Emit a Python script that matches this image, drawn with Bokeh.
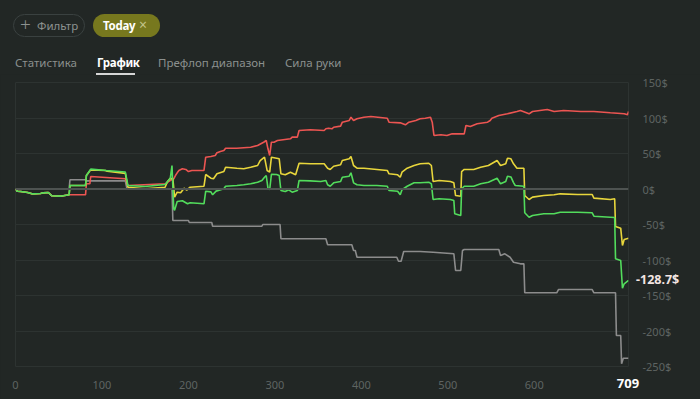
from bokeh.plotting import figure
from bokeh.layouts import column
from bokeh.models import Range1d, FixedTicker, Span, PrintfTickFormatter, Div
from bokeh.embed import file_html
from bokeh.resources import INLINE

# ---------------- data (hand number, cumulative $) ----------------
green = [(0, 0), (2, -3.1), (6, -3.5), (14, -4.9), (19, -6.8), (29, -6.3), (32, -5.4), (38, -4.9),
         (42, -9.6), (52, -10.1), (62, -8.2), (63, 4.9), (81, 4.9), (82, 19), (87, 28), (105, 26),
         (127, 24), (130, 4.9), (150, 3.5), (173, 6.3), (177, 12), (179, 15), (181, 33), (183, -28),
         (184, -30), (187, -17.6), (193, -16.6), (199, -20.8), (202, -19.4), (218, -20.8), (220, -3.1),
         (226, -4), (228, -8.2), (232, -3), (241, 0.3), (243, 3.9), (256, 4.9), (264, 5.9), (272, 7.3),
         (280, 9.6), (285, 12), (288, 16.6), (290, 19), (292, 1.1), (294, -0.7), (296, 20.8), (302, 20.4),
         (305, 19), (307, -2.1), (312, -3.5), (316, -1.1), (320, -4.5), (326, -2.1), (328, 12), (341, 11.5),
         (353, 10.6), (359, 12), (361, 5.9), (364, 3.9), (368, 8.7), (376, 10.6), (378, 16.6), (386, 18),
         (388, 22.8), (391, 8.7), (395, 5.9), (403, 4.9), (418, 4.9), (430, 3.9), (432, -2.1), (442, -3.1),
         (445, -8.2), (447, -1.1), (453, 3.9), (461, 8.7), (468, 8.7), (478, 9.6), (481, 7.3), (483, -14.8),
         (490, -13.8), (503, -14.8), (507, -16.2), (508, -34.9), (515, -37.3), (516, 0.3), (519, 3.9),
         (530, 3.9), (538, 7.3), (547, 9.6), (557, 15.2), (561, 7.3), (567, 10.6), (569, 18), (573, 17),
         (576, 9), (578, 4.9), (588, 3.9), (589, -33.5), (594, -39.7), (598, -37.3), (611, -34.9),
         (623, -34.9), (630, -32.7), (650, -32.7), (667, -33.5), (669, -38.3), (688, -39.7), (693, -40.1),
         (694, -98.3), (700, -100.7), (702, -139.7), (704, -133.5), (709, -128.7)]

yellow = [(0, 0), (2, -3.1), (6, -3.5), (14, -4.9), (19, -6.8), (29, -6.3), (32, -5.4), (38, -4.9),
          (42, -9.6), (52, -10.1), (62, -8.2), (63, 4.9), (81, 4.9), (82, 19), (87, 27), (104, 26),
          (106, 25), (127, 22), (130, 2.5), (150, 0.3), (173, 2.5), (176, 11), (179, 15), (182, 14.4),
          (184, -11.5), (187, -4.5), (191, -5.4), (195, 1.1), (198, -1.7), (202, 2.5), (218, 3.9),
          (220, 20.4), (226, 15.2), (229, 14.4), (233, 21.4), (241, 24.6), (243, 30.7), (256, 29.3),
          (264, 28.5), (272, 30.7), (280, 33.1), (283, 40.1), (288, 44.8), (291, 26.1), (294, 23.7),
          (296, 44.8), (302, 43.4), (305, 42.5), (307, 21.4), (312, 20), (318, 23.7), (324, 20), (328, 36.3),
          (341, 35.5), (357, 35.5), (361, 29.3), (364, 27.5), (368, 32.1), (376, 34.1), (378, 40.1),
          (386, 42.5), (388, 45.8), (391, 33.1), (395, 29.3), (403, 29.3), (430, 26.1), (432, 21.4),
          (442, 20), (445, 16.6), (447, 23.7), (453, 29.3), (461, 33.1), (468, 35.5), (478, 36.3),
          (481, 33.1), (483, 10.6), (490, 12), (503, 10.6), (507, 8.7), (509, -9.2), (515, -10.1),
          (516, 24.6), (519, 27.5), (530, 27.5), (538, 30.7), (547, 33.1), (557, 40.1), (561, 33.1),
          (567, 35.5), (569, 43.4), (573, 42.5), (576, 35.5), (580, 29.3), (588, 29.3), (589, -9.2),
          (594, -14.8), (598, -11.5), (611, -9.2), (623, -8.2), (630, -6.8), (650, -7.7), (667, -7.7),
          (669, -12.9), (688, -14.8), (693, -13.8), (694, -52.8), (700, -55.2), (702, -79.6), (704, -71.1),
          (709, -69.3)]

red = [(0, 0), (2, -3.1), (6, -3.5), (14, -4.9), (19, -6.8), (29, -6.3), (32, -5.4), (38, -4.9),
       (42, -9.6), (52, -10.1), (62, -8.2), (81, -8.2), (82, 7.3), (86, 7.3), (87, 17.6), (127, 14.4),
       (130, 4.9), (173, 7.3), (179, 12), (183, 14.4), (185, 19), (187, 22.8), (189, 26.1), (193, 28.5),
       (197, 27.5), (200, 24.6), (204, 26.1), (218, 26.1), (220, 44.8), (226, 45.8), (231, 47.2),
       (233, 51), (237, 52.8), (241, 54.2), (243, 57.5), (256, 57.5), (272, 58.9), (280, 61.3),
       (287, 65.9), (290, 68.3), (292, 56.6), (294, 47.2), (296, 65.9), (299, 65.9), (303, 68.3),
       (318, 70.7), (320, 73), (326, 73), (328, 82.4), (341, 83.4), (357, 82.4), (359, 84.8), (362, 85.6),
       (366, 84.8), (368, 87), (376, 88.5), (378, 94.1), (386, 96.5), (388, 101.1), (391, 96.5),
       (395, 98.9), (403, 101.1), (411, 102.1), (430, 99.7), (432, 94.1), (445, 93.2), (451, 90.4),
       (455, 94.1), (463, 96.5), (468, 98.9), (474, 99.7), (480, 101.1), (482, 94.1), (484, 75.4),
       (492, 76.3), (499, 75.4), (505, 77.7), (519, 77.7), (521, 89.4), (526, 88), (534, 91.8),
       (546, 94.1), (549, 96.5), (551, 99.7), (559, 103.5), (569, 105.9), (580, 109.2), (584, 110.6),
       (594, 105.9), (598, 109.2), (615, 112), (623, 109.2), (634, 110.6), (654, 109.2), (669, 109.2),
       (688, 107.3), (704, 105.9), (708, 104.5), (709, 109.2)]

gray = [(0, 0), (62, 0), (63, 13), (81, 13), (82, 11.5), (127, 11.5), (129, 0), (181, 0), (182, -44.4),
        (200, -44.4), (201, -47.2), (227, -47.2), (228, -52.4), (285, -52.4), (286, -50), (306, -50),
        (307, -70.1), (359, -70.1), (361, -78.6), (389, -78.6), (391, -86.6), (393, -86.6), (395, -96.1),
        (441, -96.1), (443, -101.7), (446, -101.7), (449, -88), (468, -88), (483, -89), (507, -91.3),
        (509, -114.8), (515, -114.8), (517, -86.6), (519, -85.2), (559, -85.2), (561, -93.7), (566, -91.3),
        (572, -96.1), (576, -103.1), (584, -105.4), (588, -105.4), (589, -146.2), (626, -146.2),
        (628, -141.6), (667, -141.6), (669, -146.2), (694, -146.2), (695, -206.3), (700, -206.3),
        (701, -246.2), (703, -238.3), (709, -238.3)]

x_ticks = [0, 100, 200, 300, 400, 500, 600]
y_ticks = [150, 100, 50, 0, -50, -100, -150, -200, -250]
hands_total = 709
final_value = -128.7
tabs = ["Статистика", "График", "Префлоп диапазон", "Сила руки"]
tab_left = [15, 97, 158, 285]
filter_text = "Фильтр"
chip_text = "Today"

# ---------------- styling ----------------
BG = "#222725"
GRID = "#2d3331"
TICK = "#5e6462"
FONT = "Noto Sans"

HEADER_H = 74
W, H = 700, 325
BL, BR, BT, BB = 15, 72, 8, 33
x0, x1 = 0, hands_total
y0, y1 = -250, 150

# positions of the two end-of-series value tags, from the chart's linear mapping
fw = W - BL - BR
fh = H - BT - BB
tag_x_cx = BL + (hands_total - x0) / (x1 - x0) * fw          # page x of last hand
tag_x_cy = HEADER_H + BT + fh + 17                            # page y of x tick labels
tag_y_left = BL + fw + 8                                      # page x of y tick labels
tag_y_cy = HEADER_H + BT + (y1 - final_value) / (y1 - y0) * fh  # page y of final value

# ---------------- header (HTML) ----------------
tab_html = ""
for i, (tx, t) in enumerate(zip(tab_left, tabs)):
    active = (i == 1)
    tab_html += (
        f'<span style="position:absolute;left:{tx}px;top:54px;line-height:18px;font-size:11.5px;'
        f'white-space:nowrap;letter-spacing:{"-0.3px" if active else "0px"};'
        f'color:{"#ffffff" if active else "#8b908e"};'
        f'font-weight:{"700" if active else "400"};">{t}</span>'
    )
header_html = f"""
<div style="position:relative;width:700px;height:{HEADER_H}px;font-family:'{FONT}',sans-serif;overflow:visible;">
  <div style="position:absolute;left:13px;top:14px;width:72px;height:23px;box-sizing:border-box;
              border:1px solid #3a4140;border-radius:12px;"></div>
  <span style="position:absolute;left:20px;top:13px;line-height:23px;font-size:19px;font-weight:300;color:#8d9290;">+</span>
  <span style="position:absolute;left:37px;top:14px;line-height:23px;font-size:11.5px;color:#8d9290;">{filter_text}</span>
  <div style="position:absolute;left:93px;top:14px;width:67px;height:23px;border-radius:12px;background:#77781e;"></div>
  <span style="position:absolute;left:103px;top:14px;line-height:23px;font-size:11.5px;font-weight:700;letter-spacing:-0.3px;color:#ffffff;">{chip_text}</span>
  <span style="position:absolute;left:139px;top:13px;line-height:23px;font-size:14px;color:#c4c48a;">&#215;</span>
  {tab_html}
  <div style="position:absolute;left:96px;top:73px;width:39px;height:2px;background:#d6d6d6;"></div>
  <span style="position:absolute;left:{tag_x_cx - 20:.1f}px;width:40px;text-align:center;top:{tag_x_cy - 10:.1f}px;
               line-height:20px;font-size:13px;font-weight:700;color:#ffffff;">{hands_total}</span>
  <span style="position:absolute;left:{tag_y_left:.1f}px;top:{tag_y_cy - 10:.1f}px;line-height:20px;white-space:nowrap;
               font-size:12.5px;font-weight:700;color:#f3e5e2;">{final_value}$</span>
</div>
"""
header = Div(text=header_html, width=700, height=HEADER_H, margin=(0, 0, 0, 0),
             styles={"position": "relative", "z-index": "10", "overflow": "visible"})

# ---------------- chart ----------------
p = figure(width=W, height=H, output_backend="svg", toolbar_location=None,
           x_range=Range1d(x0, x1), y_range=Range1d(y0, y1),
           y_axis_location="right",
           min_border_left=BL, min_border_right=BR, min_border_top=BT, min_border_bottom=BB)
p.background_fill_color = BG
p.border_fill_color = BG
p.outline_line_color = GRID
p.margin = (0, 0, 0, 0)
p.styles = {"position": "relative", "z-index": "1"}

p.xaxis.ticker = FixedTicker(ticks=x_ticks)
p.yaxis.ticker = FixedTicker(ticks=y_ticks)
p.yaxis.formatter = PrintfTickFormatter(format="%d$")
for ax in (p.xaxis, p.yaxis):
    ax.axis_line_color = None
    ax.major_tick_line_color = None
    ax.minor_tick_line_color = None
    ax.major_label_text_color = TICK
    ax.major_label_text_font = FONT
    ax.major_label_text_font_size = "11px"
p.yaxis.major_label_standoff = 8
p.xaxis.major_label_standoff = 8
p.xgrid.visible = False
p.ygrid.grid_line_color = GRID
p.ygrid.grid_line_width = 1

p.add_layout(Span(location=0, dimension="width", line_color="#4e5351", line_width=2))

colors = {"gray": "#8c8c8c", "red": "#ec5552", "yellow": "#e8d63c", "green": "#52dc5c"}
for name, series in (("gray", gray), ("red", red), ("yellow", yellow), ("green", green)):
    xs = [a for a, b in series]
    ys = [b for a, b in series]
    p.line(xs, ys, line_color=colors[name], line_width=1.6)

layout = column(header, p, spacing=0, margin=(0, 0, 0, 0), styles={"background-color": BG})

html = file_html(layout, INLINE)
html = html.replace("<body>", '<body style="background-color:%s;">' % BG, 1)
open("out.html", "w").write(html)
